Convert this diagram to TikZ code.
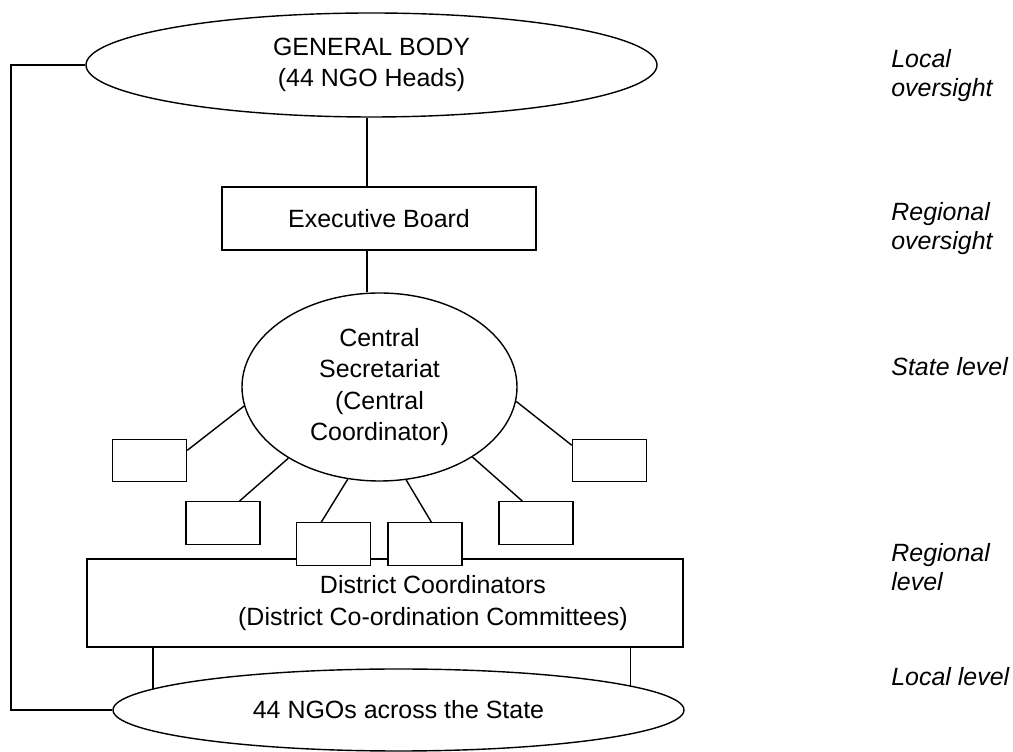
\documentclass[tikz,border=0pt]{standalone}
\usepackage{fontspec}
\setmainfont{Liberation Sans}
\usetikzlibrary{shapes.geometric}

\begin{document}
\begin{tikzpicture}[
    every node/.style={font=\fontsize{14.2}{17.8}\selectfont},
    box/.style={draw, line width=0.8pt, align=center, inner sep=0pt},
    oval/.style={draw, ellipse, line width=0.8pt, align=center, inner sep=0pt},
    smallbox/.style={draw, fill=white, line width=0.8pt, minimum width=1.48cm, minimum height=0.85cm},
    lvl/.style={anchor=west, align=left, inner sep=0pt, font=\fontsize{14.2}{16.5}\selectfont\itshape}]
    \useasboundingbox (0,0) rectangle (20.26,15.04);

    % Main bodies
    \node[oval, minimum width=11.42cm, minimum height=2.08cm] (gb) at (7.43,13.74) {GENERAL BODY\\(44 NGO Heads)};
    \node[box, minimum width=6.28cm, minimum height=1.26cm] (eb) at (7.58,10.67) {Executive Board};
    \node[oval, minimum width=5.5cm, minimum height=3.76cm] (cs) at (7.59,7.30) {Central\\Secretariat\\(Central\\Coordinator)};
    \node[box, minimum width=11.92cm, minimum height=1.76cm] (dist) at (7.70,2.98) {};
    \node[align=center] (dtext) at (8.66,2.98) {District Coordinators\\(District Co-ordination Committees)};
    \node[oval, minimum width=11.42cm, minimum height=1.64cm] (ngo) at (7.97,0.84) {44 NGOs across the State};

    % Small boxes round the secretariat
    \node[smallbox] (b1) at (2.99,5.83) {};
    \node[smallbox] (b2) at (4.46,4.58) {};
    \node[smallbox] (b3) at (6.67,4.16) {};
    \node[smallbox] (b4) at (8.50,4.16) {};
    \node[smallbox] (b5) at (10.72,4.58) {};
    \node[smallbox] (b6) at (12.19,5.83) {};

    % Lines
    \coordinate (spine) at (7.34,0);
    \coordinate (rail) at (0.22,0);
    \draw[line width=0.8pt] (gb.south -| spine) -- (eb.north -| spine);
    \draw[line width=0.8pt] (eb.south -| spine) -- (cs.north -| spine);
    \draw[line width=0.8pt] (cs.188) -- (b1.15);
    \draw[line width=0.8pt] (cs.218) -- (b2.53);
    \draw[line width=0.8pt] (cs.251) -- (b3.119);
    \draw[line width=0.8pt] (cs.286) -- (b4.74);
    \draw[line width=0.8pt] (cs.323) -- (b5.122);
    \draw[line width=0.8pt] (cs.354) -- (b6.158);
    \draw[line width=0.8pt] (ngo.175 |- dist.south) -- (ngo.175);
    \draw[line width=0.8pt] (ngo.6 |- dist.south) -- (ngo.6);
    \draw[line width=1.1pt] (gb.west) -- (gb.west -| rail) -- (ngo.west -| rail) -- (ngo.west);

    % Levels
    \node[lvl] (l1) at (17.82,13.53) {Local\\oversight};
    \node[lvl] (l2) at (17.82,10.47) {Regional\\oversight};
    \node[lvl] (l3) at (17.82,7.70) {State level};
    \node[lvl] (l4) at (17.82,3.70) {Regional\\level};
    \node[lvl] (l5) at (17.82,1.50) {Local level};
\end{tikzpicture}
\end{document}
